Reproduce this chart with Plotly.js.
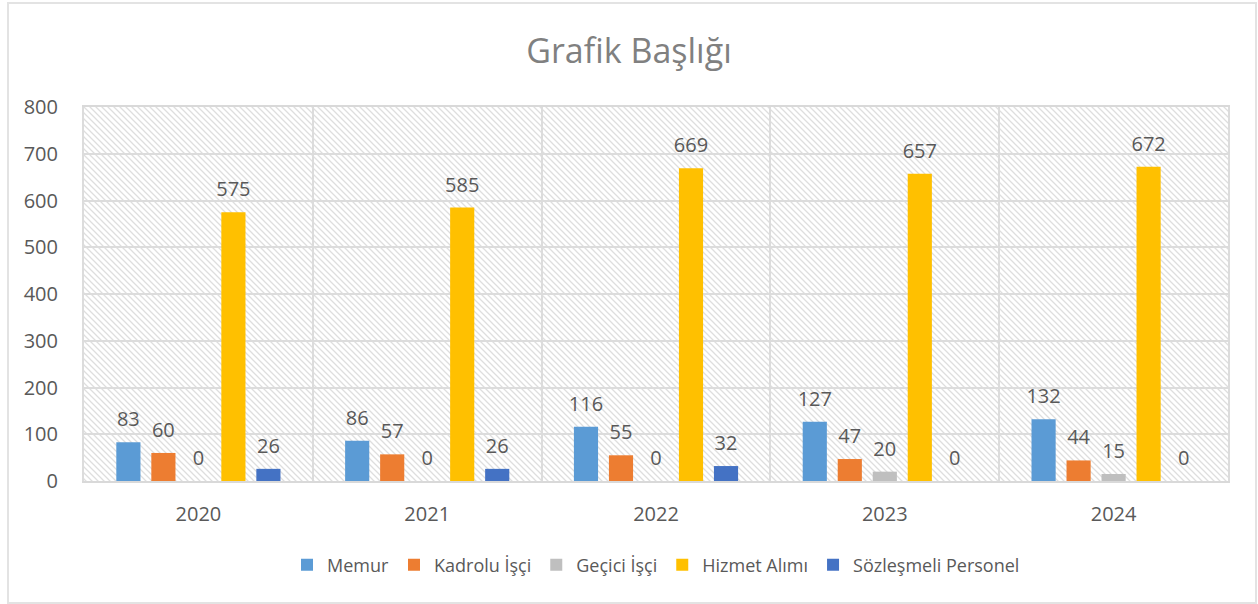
<!DOCTYPE html>
<html>
<head>
<meta charset="utf-8">
<script src="https://cdn.plot.ly/plotly-3.0.1.min.js"></script>
<style>
html,body{margin:0;padding:0;background:#fff;}
#wrap{position:relative;width:1258px;height:604px;}
#chart{width:1258px;height:604px;}
#frame{position:absolute;left:7px;top:2px;width:1246px;height:598px;border:2px solid #e3e3e3;pointer-events:none;}
</style>
</head>
<body>
<div id="wrap"><div id="chart"></div><div id="frame"></div></div>
<script>
const years = ["2020", "2021", "2022", "2023", "2024"];
const seriesNames = ["Memur", "Kadrolu İşçi", "Geçici İşçi", "Hizmet Alımı", "Sözleşmeli Personel"];
const memur = [83, 86, 116, 127, 132];
const kadroluIsci = [60, 57, 55, 47, 44];
const geciciIsci = [0, 0, 0, 20, 15];
const hizmetAlimi = [575, 585, 669, 657, 672];
const sozlesmeliPersonel = [26, 26, 32, 0, 0];
const colors = ["#5B9BD5", "#ED7D31", "#BFBFBF", "#FFC000", "#4472C4"];
const values = [memur, kadroluIsci, geciciIsci, hizmetAlimi, sozlesmeliPersonel];

const FONT = "'Open Sans', 'Noto Sans', sans-serif";
const GAP = 0.235;

const bars = values.map((v, i) => ({
  type: "bar",
  name: seriesNames[i],
  x: years,
  y: v,
  marker: {color: colors[i]},
  hoverinfo: "x+y+name"
}));

const labels = values.map((v, i) => ({
  type: "scatter",
  mode: "markers+text",
  name: seriesNames[i] + " etiket",
  showlegend: false,
  hoverinfo: "skip",
  x: years,
  y: v,
  text: v.map(String),
  textposition: "top center",
  cliponaxis: false,
  marker: {size: 16, opacity: 0, color: colors[i]},
  textfont: {family: FONT, size: 20, color: "#595959"}
}));

const hatch = "data:image/svg+xml;utf8," + encodeURIComponent(
  '<svg xmlns="http://www.w3.org/2000/svg" width="1144" height="374" viewBox="0 0 1144 374" preserveAspectRatio="none">' +
  '<defs><pattern id="p" width="6" height="6" patternUnits="userSpaceOnUse">' +
  '<path d="M-1,-1 L7,7 M-4,2 L1,7 M2,-4 L7,1" stroke="#dedede" stroke-width="1.3"/></pattern></defs>' +
  '<rect width="1144" height="374" fill="url(#p)"/></svg>');

const layout = {
  width: 1258, height: 604,
  margin: {l: 84, r: 30, t: 107, b: 123},
  paper_bgcolor: "rgba(0,0,0,0)",
  plot_bgcolor: "rgba(0,0,0,0)",
  font: {family: FONT, color: "#595959", size: 18},
  title: {text: "Grafik Başlığı", x: 0.5, xanchor: "center", y: 0.915, yanchor: "middle",
          font: {family: FONT, size: 34, color: "#808080"}},
  barmode: "group",
  bargap: GAP,
  bargroupgap: 0.31,
  scattermode: "group",
  scattergap: GAP,
  xaxis: {
    type: "category",
    tickson: "boundaries",
    showgrid: true, gridcolor: "#dcdcdc", gridwidth: 2,
    showline: true, linecolor: "#d9d9d9", linewidth: 2, mirror: true,
    ticks: "", ticklabelstandoff: 14,
    tickfont: {family: FONT, size: 20, color: "#595959"},
    zeroline: false
  },
  yaxis: {
    range: [0, 800], dtick: 100, tick0: 0,
    showgrid: true, gridcolor: "#dcdcdc", gridwidth: 2,
    showline: true, linecolor: "#dcdcdc", linewidth: 2, mirror: true,
    zeroline: false,
    ticks: "", ticklabelstandoff: 20,
    tickfont: {family: FONT, size: 20, color: "#595959"}
  },
  legend: {
    orientation: "h", x: 0.5, xanchor: "center", y: -0.225, yanchor: "middle",
    font: {family: FONT, size: 18, color: "#595959"},
    itemwidth: 30, tracegroupgap: 0
  },
  images: [{
    source: hatch, xref: "paper", yref: "paper", x: 0, y: 1, sizex: 1, sizey: 1,
    xanchor: "left", yanchor: "top", sizing: "stretch", layer: "below"
  }],
  showlegend: true
};

Plotly.newPlot("chart", bars.concat(labels), layout, {displayModeBar: false, responsive: false});
</script>
</body>
</html>
